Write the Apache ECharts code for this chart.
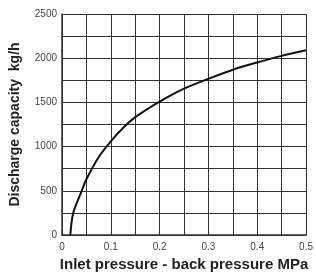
<!DOCTYPE html>
<html lang="en">
<head>
  <meta charset="UTF-8">
  <title>Discharge capacity</title>
  <script src="https://cdn.jsdelivr.net/npm/echarts@6/dist/echarts.min.js"></script>
</head>
<style>
  * {
    padding: 0px;
    margin: 0px;
  }
  body { background: #fff; }
</style>
<body>
<div id="main" style="width:316px;height:277px;"></div>
</body>
</html>
<script>
  // pressure difference (MPa) and discharge capacity (kg/h)
  var pressure = [0.017, 0.023, 0.0405, 0.05, 0.075, 0.1, 0.125, 0.15, 0.2, 0.25, 0.3, 0.35, 0.4, 0.45, 0.5];
  var capacity = [0, 250, 500, 630, 880, 1060, 1210, 1333, 1510, 1656, 1767, 1870, 1952, 2026, 2089];

  var lineColor = '#333';
  var font = 'Liberation Sans, Arial, sans-serif';

  var chart = echarts.init(document.getElementById('main'));
  chart.setOption({
    backgroundColor: '#fff',
    animation: false,
    grid: {left: 58, right: 6, top: 14, bottom: 38},
    xAxis: {
      type: 'value',
      min: 0,
      max: 0.5,
      interval: 0.1,
      name: 'Inlet pressure - back pressure MPa',
      nameLocation: 'middle',
      nameGap: 22,
      nameTextStyle: {fontFamily: font, fontWeight: 'bold', fontSize: 15, color: '#222'},
      axisLine: {lineStyle: {color: lineColor, width: 1.5}},
      axisTick: {show: false},
      axisLabel: {fontFamily: font, fontSize: 10, color: '#444', margin: 7},
      splitLine: {show: true, lineStyle: {color: lineColor, width: 1}},
      minorTick: {show: false, splitNumber: 2},
      minorSplitLine: {show: true, lineStyle: {color: lineColor, width: 1}}
    },
    yAxis: {
      type: 'value',
      min: 0,
      max: 2500,
      interval: 500,
      name: 'Discharge capacity  kg/h',
      nameLocation: 'middle',
      nameGap: 40,
      nameTextStyle: {fontFamily: font, fontWeight: 'bold', fontSize: 14, color: '#222'},
      axisLine: {show: true, lineStyle: {color: lineColor, width: 1.5}},
      axisTick: {show: false},
      axisLabel: {
        fontFamily: font, fontSize: 10, color: '#444', margin: 5,
        formatter: function (v) { return String(v); }
      },
      splitLine: {show: true, lineStyle: {color: lineColor, width: 1}},
      minorTick: {show: false, splitNumber: 2},
      minorSplitLine: {show: true, lineStyle: {color: lineColor, width: 1}}
    },
    series: [{
      type: 'line',
      data: pressure.map(function (p, i) { return [p, capacity[i]]; }),
      smooth: 0.3,
      showSymbol: false,
      lineStyle: {color: '#111', width: 2}
    }]
  });
</script>
